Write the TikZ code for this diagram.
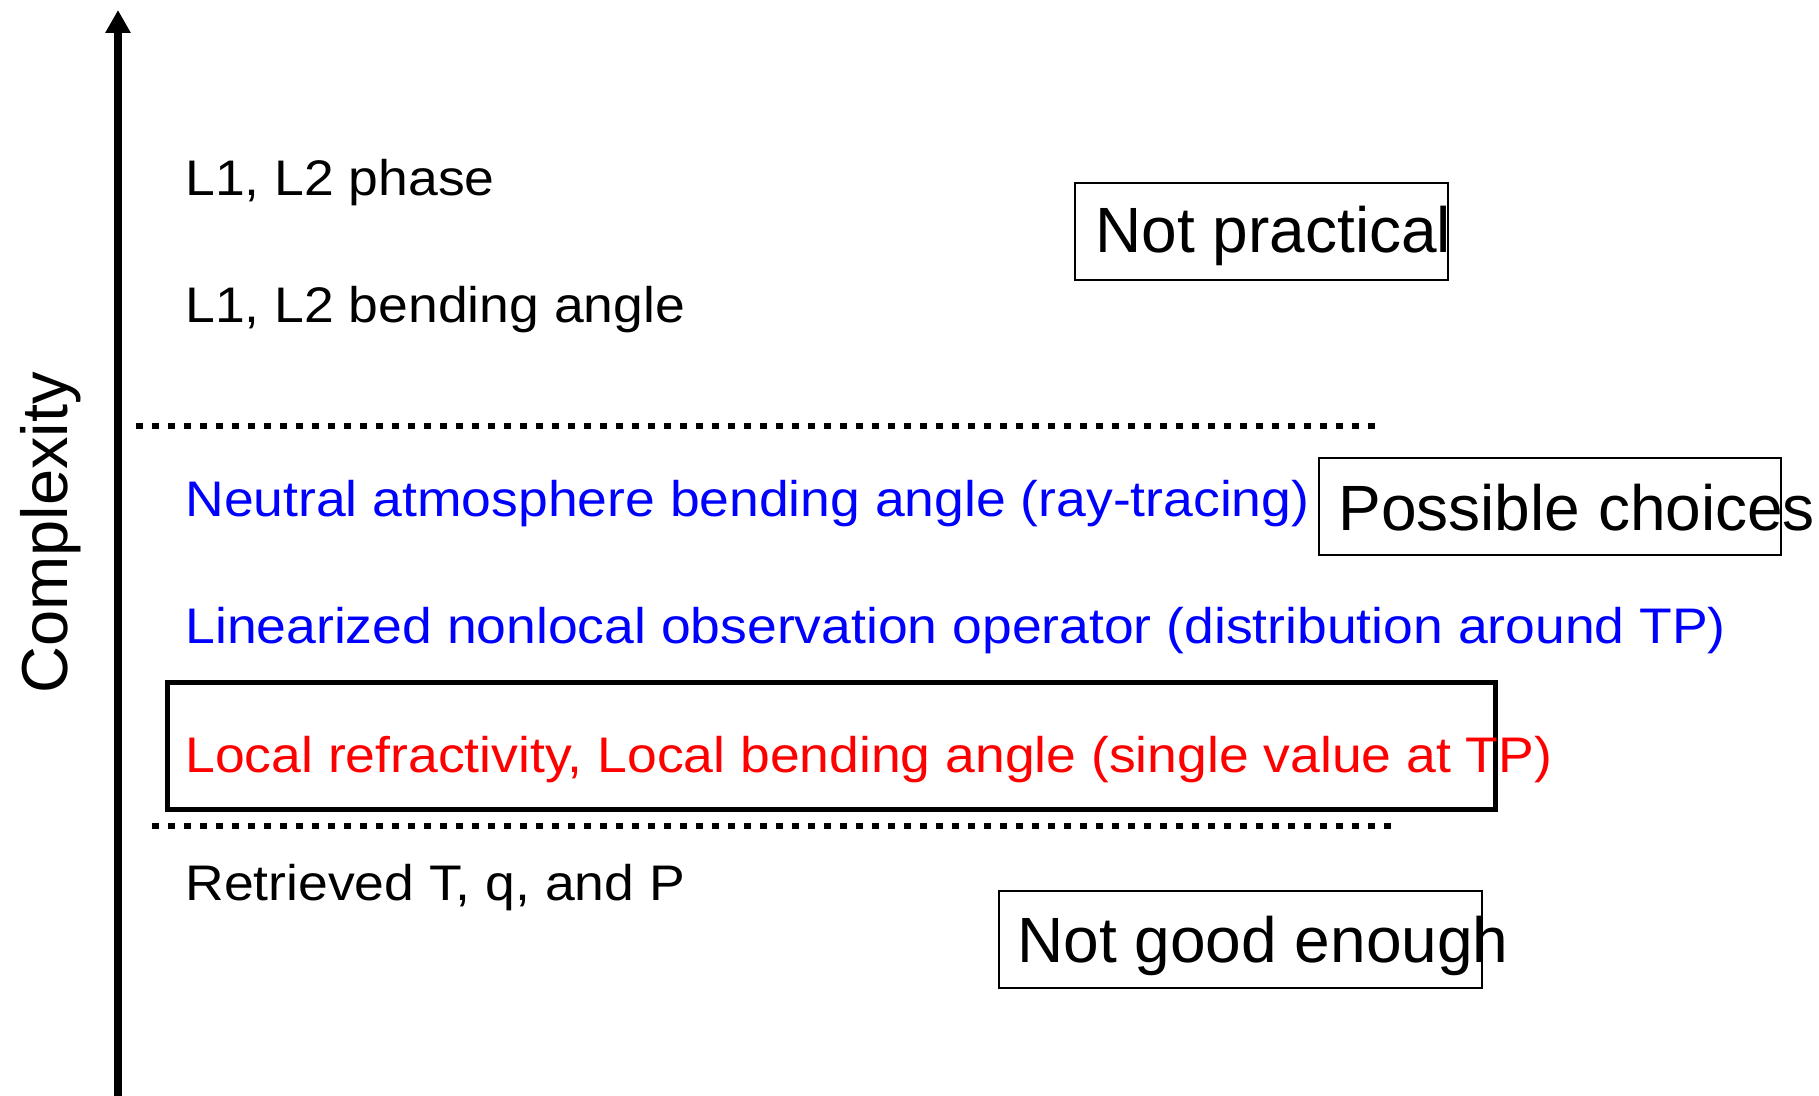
\documentclass[tikz,border=0pt]{standalone}
\usepackage{fontspec}
\setmainfont{Liberation Sans}
\newfontfamily\widefont[FakeStretch=1.07]{Liberation Sans}
\usetikzlibrary{arrows.meta}
\definecolor{pblue}{RGB}{0,0,255}
\definecolor{pred}{RGB}{255,0,0}
\begin{document}
\begin{tikzpicture}[x=0.5pt,y=-0.5pt,
  lvl/.style={anchor=base west,inner sep=0pt,font=\widefont\fontsize{25pt}{29pt}\selectfont},
  tag/.style={anchor=base west,inner sep=0pt,font=\fontsize{32pt}{37pt}\selectfont},
  thinbox/.style={draw,line width=0.75pt},
  dotline/.style={line width=3.25pt,dash pattern=on 3.25pt off 4.75pt,line cap=butt}
]
\useasboundingbox (0,0) rectangle (1819,1096);
% axis
\coordinate (axbot) at (118,1096);
\coordinate (axtop) at (118,10);
\draw[line width=4pt,-{Triangle[length=11.5pt,width=12pt]}] (axbot) -- (axtop);
\node[anchor=base,rotate=90,inner sep=0pt,font=\fontsize{32.5pt}{38pt}\selectfont] (cx) at (67,533) {Complexity};
% dotted separators
\coordinate (d1a) at (136,426); \coordinate (d1b) at (1378,426);
\coordinate (d2a) at (152,826); \coordinate (d2b) at (1393,826);
\draw[dotline] (d1a) -- (d1b);
\draw[dotline] (d2a) -- (d2b);
% boxes
\coordinate (npa) at (1075,183); \coordinate (npb) at (1448,280);
\coordinate (pca) at (1319,458); \coordinate (pcb) at (1781,555);
\coordinate (nga) at (999,891); \coordinate (ngb) at (1482,988);
\coordinate (lba) at (167,682); \coordinate (lbb) at (1495,809);
\draw[thinbox] (npa) rectangle (npb);
\draw[thinbox] (pca) rectangle (pcb);
\draw[thinbox] (nga) rectangle (ngb);
\draw[line width=2.5pt] (lba) rectangle (lbb);
% level texts
\node[lvl] (t1) at (185,196) {L1, L2 phase};
\node[lvl] (t2) at (185,323) {L1, L2 bending angle};
\node[lvl,text=pblue] (t3) at (185,516) {Neutral atmosphere bending angle (ray-tracing)};
\node[lvl,text=pblue] (t4) at (185,643) {Linearized nonlocal observation operator (distribution around TP)};
\node[lvl,text=pred] (t5) at (185,772) {Local refractivity, Local bending angle (single value at TP)};
\node[lvl] (t6) at (185,900) {Retrieved T, q, and P};
% tags
\node[tag] (np) at (1095,253) {Not practical};
\node[tag] (pc) at (1338,530) {Possible choices};
\node[tag] (ng) at (1017,962) {Not good enough};
\end{tikzpicture}
\end{document}
